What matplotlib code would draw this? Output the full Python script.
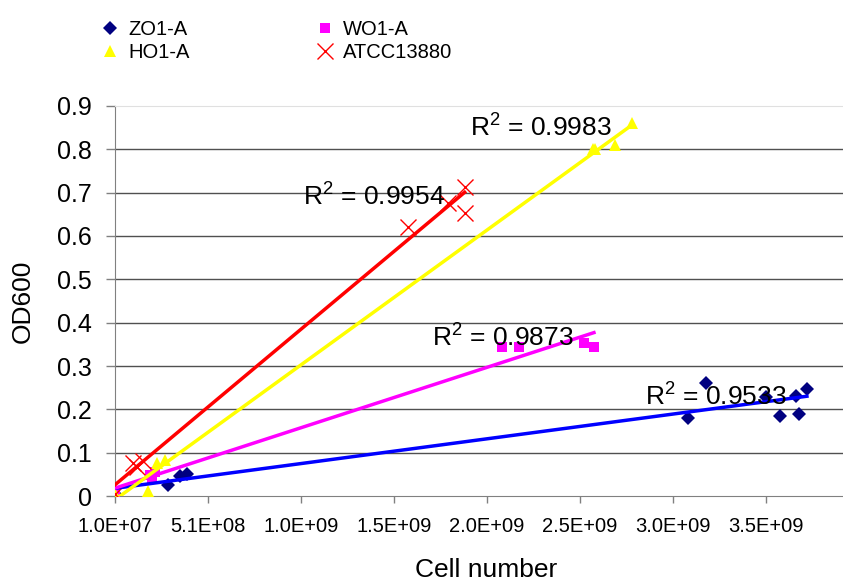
import numpy as np
import matplotlib
matplotlib.use('Agg')
import matplotlib.pyplot as plt
from matplotlib.lines import Line2D

plt.rcParams['font.family'] = ['Liberation Sans', 'DejaVu Sans']

# 数据：细胞数 vs OD600
zo1_x = [1.0e7, 2.95e8, 3.6e8, 3.97e8, 3.09e9, 3.19e9, 3.51e9, 3.585e9, 3.67e9, 3.69e9, 3.73e9]
zo1_y = [0.004, 0.025, 0.046, 0.050, 0.180, 0.261, 0.229, 0.185, 0.231, 0.189, 0.247]

wo1_x = [1.0e7, 2.25e8, 2.0e8, 2.1e8, 2.09e9, 2.18e9, 2.53e9, 2.585e9]
wo1_y = [0.004, 0.055, 0.048, 0.040, 0.344, 0.344, 0.353, 0.344]

ho1_x = [1.0e7, 1.9e8, 2.35e8, 2.8e8, 2.58e9, 2.59e9, 2.70e9, 2.79e9]
ho1_y = [0.004, 0.012, 0.076, 0.083, 0.800, 0.800, 0.810, 0.861]

atcc_x = [1.0e7, 1.05e8, 1.3e8, 1.6e8, 1.585e9, 1.8e9, 1.89e9, 1.89e9]
atcc_y = [0.005, 0.077, 0.068, 0.080, 0.621, 0.677, 0.714, 0.654]

series_names = ['ZO1-A', 'WO1-A', 'HO1-A', 'ATCC13880']
r2_labels = ['0.9533', '0.9873', '0.9983', '0.9954']
r2_pos = [(2.86e9, 0.229), (1.714e9, 0.365), (1.92e9, 0.85), (1.02e9, 0.69)]

xtick_vals = [1.0e7 + k * 5e8 for k in range(8)]
xtick_labels = ['1.0E+07', '5.1E+08', '1.0E+09', '1.5E+09', '2.0E+09', '2.5E+09', '3.0E+09', '3.5E+09']
ytick_vals = [0, 0.1, 0.2, 0.3, 0.4, 0.5, 0.6, 0.7, 0.8, 0.9]
ytick_labels = ['0', '0.1', '0.2', '0.3', '0.4', '0.5', '0.6', '0.7', '0.8', '0.9']

fig = plt.figure(figsize=(8.43, 5.84), dpi=100)
ax = fig.add_axes([115 / 843, 88 / 584, 1 - 115 / 843, 390 / 584])

data = [(zo1_x, zo1_y), (wo1_x, wo1_y), (ho1_x, ho1_y), (atcc_x, atcc_y)]
mk = [dict(marker='D', color='#000080', ms=7),
      dict(marker='s', color='#FF00FF', ms=7),
      dict(marker='^', color='#FFFF00', ms=8.5),
      dict(marker='x', color='#FF0000', ms=12, mew=1.0)]
line_c = ['#0000FF', '#FF00FF', '#FFFF00', '#FF0000']

handles = []
for (xs, ys), m, lc in zip(data, mk, line_c):
    xs = np.array(xs)
    ys = np.array(ys)
    ax.plot(xs, ys, linestyle='none', marker=m['marker'], color=m['color'],
            ms=m['ms'], mew=m.get('mew', 0), zorder=3)
    # 线性趋势线
    k, b = np.polyfit(xs, ys, 1)
    xx = np.array([xs.min(), xs.max()])
    ax.plot(xx, k * xx + b, color=lc, lw=2.5, zorder=4)
    handles.append(Line2D([], [], linestyle='none', marker=m['marker'], color=m['color'],
                          ms=m['ms'], mew=m.get('mew', 0)))

for lab, (tx, ty) in zip(r2_labels, r2_pos):
    ax.text(tx, ty, '$\\mathregular{R^2}$ = ' + lab, fontsize=19, ha='left', va='center', zorder=6)

ax.set_xlim(1.0e7, 1.0e7 + 728 / 93 * 5e8)
ax.set_ylim(0, 0.9)
ax.set_xticks(xtick_vals)
ax.set_xticklabels(xtick_labels, fontsize=14.5)
ax.set_yticks(ytick_vals)
ax.set_yticklabels(ytick_labels, fontsize=18)
ax.tick_params(axis='x', direction='out', length=5, width=1, color='#808080', pad=10)
ax.tick_params(axis='y', direction='out', length=6.5, width=1, color='#808080', pad=10)

for yv in ytick_vals[1:-1]:
    ax.axhline(yv, color='#505050', lw=1, zorder=1)

ax.spines['right'].set_visible(False)
ax.spines['top'].set_color('#e0e0e0')
ax.spines['left'].set_color('#808080')
ax.spines['bottom'].set_color('#808080')

ax.set_ylabel('OD600', fontsize=19)
ax.yaxis.set_label_coords(-92 / 728, 0.5)
ax.set_xlabel('Cell number', fontsize=19)
ax.xaxis.set_label_coords((486 - 115) / 728, -74 / 390)
ax.xaxis.label.set_va('center')
ax.yaxis.label.set_va('center')

order = [0, 2, 1, 3]
fig.legend([handles[i] for i in order], [series_names[i] for i in order],
           ncol=2, loc='upper left', bbox_to_anchor=(100 / 843, 1 - 20 / 584),
           frameon=False, fontsize=14.5,
           handlelength=1.0, handletextpad=0.4,
           columnspacing=6.2, labelspacing=0.2, borderpad=0, borderaxespad=0)

fig.savefig('out.png', dpi=100)
